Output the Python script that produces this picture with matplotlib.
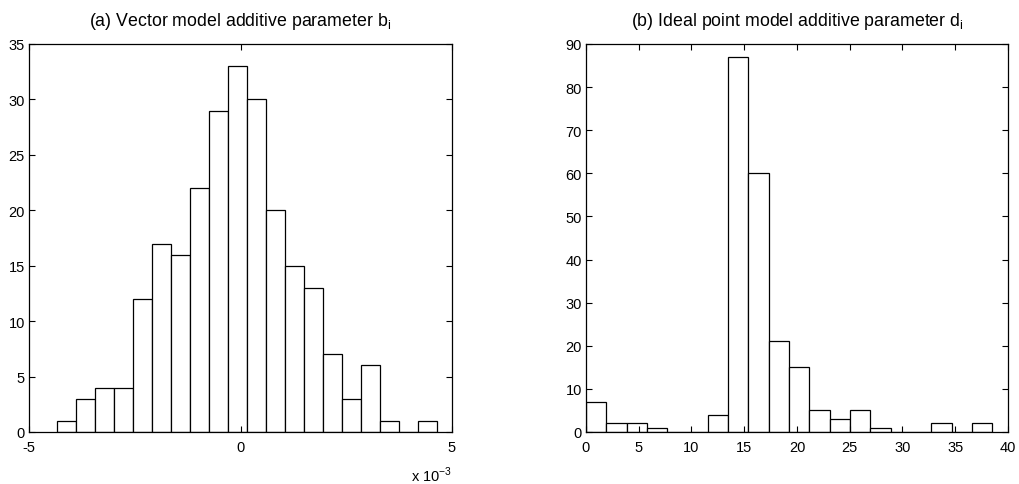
import numpy as np
import matplotlib.pyplot as plt
import matplotlib as mpl

mpl.rcParams['font.family'] = ['Liberation Sans', 'DejaVu Sans']
mpl.rcParams['mathtext.fontset'] = 'custom'
mpl.rcParams['mathtext.rm'] = 'Liberation Sans'
mpl.rcParams['axes.unicode_minus'] = False

# (a) vector model additive parameter b_i, histogram counts (x in units of 1e-3)
b_start = -4.337
b_width = 0.449
b_counts = [1, 3, 4, 4, 12, 17, 16, 22, 29, 33, 30, 20, 15, 13, 7, 3, 6, 1, 0, 1]

# (b) ideal point model additive parameter d_i
d_start = 0.0
d_width = 1.925
d_counts = [7, 2, 2, 1, 0, 0, 4, 87, 60, 21, 15, 5, 3, 5, 1, 0, 0, 2, 0, 2]


def matlab_axes(ax):
    ax.tick_params(direction='in', top=True, right=True, length=4, width=0.8,
                   labelsize=10.5)
    ax.tick_params(axis='x', pad=6)
    ax.tick_params(axis='y', pad=3)
    for s in ax.spines.values():
        s.set_linewidth(0.9)


fig = plt.figure(figsize=(10.2, 4.85), dpi=100, facecolor='w')
ax1 = fig.add_axes([29 / 1020, 1 - 433 / 485, 423 / 1020, 388 / 485])
ax2 = fig.add_axes([586 / 1020, 1 - 433 / 485, 422 / 1020, 388 / 485])

b_left = b_start + b_width * np.arange(len(b_counts))
ax1.bar(b_left, b_counts, width=b_width, align='edge', facecolor='w',
        edgecolor='k', linewidth=0.9)
ax1.set_xlim(-5, 5)
ax1.set_ylim(0, 35)
ax1.set_xticks([-5, 0, 5])
ax1.set_yticks(range(0, 36, 5))
matlab_axes(ax1)
ax1.set_title(r'(a) Vector model additive parameter b$_\mathregular{i}$',
              fontsize=12.8, pad=14)
ax1.text(1.0, -0.085, r'x 10$^\mathregular{-3}$', transform=ax1.transAxes,
         ha='right', va='top', fontsize=10.5)

d_left = d_start + d_width * np.arange(len(d_counts))
ax2.bar(d_left, d_counts, width=d_width, align='edge', facecolor='w',
        edgecolor='k', linewidth=0.9)
ax2.set_xlim(0, 40)
ax2.set_ylim(0, 90)
ax2.set_xticks(range(0, 41, 5))
ax2.set_yticks(range(0, 91, 10))
matlab_axes(ax2)
ax2.set_title(r'(b) Ideal point model additive parameter d$_\mathregular{i}$',
              fontsize=12.8, pad=14)

fig.savefig('out.png', dpi=100)
